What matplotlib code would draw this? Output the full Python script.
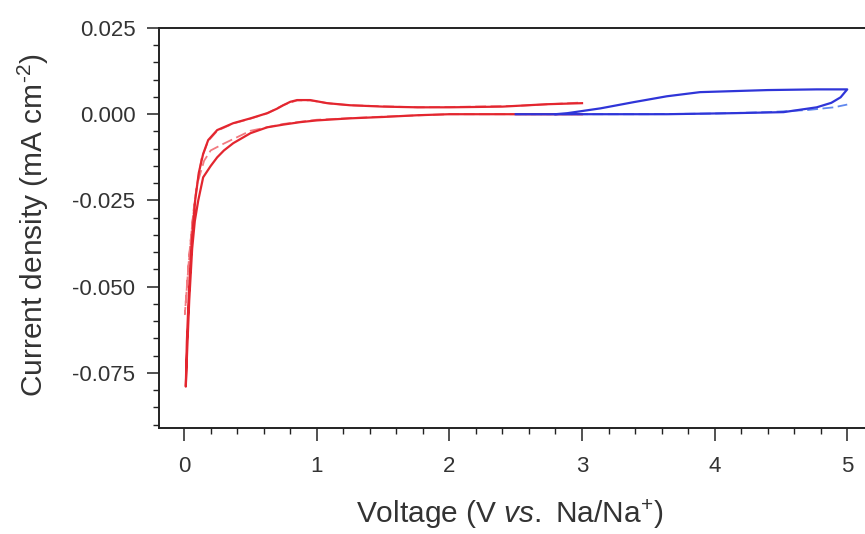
import matplotlib
matplotlib.use("Agg")
import matplotlib.pyplot as plt
from matplotlib.ticker import MultipleLocator, FormatStrFormatter

plt.rcParams['font.family'] = ['Liberation Sans', 'DejaVu Sans']
plt.rcParams['mathtext.fontset'] = 'custom'
plt.rcParams['mathtext.rm'] = 'Liberation Sans'
plt.rcParams['mathtext.it'] = 'Liberation Sans:italic'

# Red cycle (0-3 V), solid: cathodic sweep then anodic sweep
red_solid_v = [3.0, 2.5, 2.0, 1.76, 1.5, 1.25, 1.0, 0.875, 0.75, 0.626, 0.5, 0.37, 0.3, 0.249,
               0.2, 0.143, 0.106, 0.08, 0.06, 0.038, 0.023, 0.012,
               0.02, 0.035, 0.055, 0.083, 0.11, 0.143, 0.181, 0.249, 0.37, 0.5, 0.626, 0.7,
               0.747, 0.8, 0.852, 0.95, 1.078, 1.25, 1.5, 1.76, 2.0, 2.4, 2.74, 3.0]
red_solid_i = [0.0, 0.0, 0.0, -0.0003, -0.0008, -0.0012, -0.0018, -0.0023, -0.0030, -0.0038,
               -0.0055, -0.0084, -0.0105, -0.0125, -0.0150, -0.0183, -0.025, -0.031, -0.039,
               -0.054, -0.068, -0.079,
               -0.066, -0.052, -0.038, -0.0249, -0.017, -0.0115, -0.0075, -0.0046, -0.0026,
               -0.0012, 0.0003, 0.0016, 0.0026, 0.0036, 0.0041, 0.0041, 0.0032, 0.0026,
               0.0022, 0.0020, 0.0020, 0.0022, 0.0029, 0.0032]

# Red cycle, dashed
red_dash_v = [3.0, 2.0, 1.5, 1.0, 0.75, 0.5, 0.37, 0.3, 0.2, 0.15, 0.1, 0.07, 0.04, 0.02, 0.005,
              0.03, 0.06, 0.09, 0.13, 0.18, 0.25, 0.37, 0.5, 0.63, 0.75, 0.85, 0.95, 1.1,
              1.25, 1.76, 2.0, 2.5, 2.8, 3.0]
red_dash_i = [0.0, 0.0, -0.0007, -0.0016, -0.0028, -0.0048, -0.0072, -0.0085, -0.0105, -0.0135,
              -0.020, -0.028, -0.040, -0.050, -0.058,
              -0.045, -0.032, -0.022, -0.013, -0.0078, -0.0048, -0.0027, -0.0013, 0.0003,
              0.0027, 0.0040, 0.0040, 0.0031, 0.0026, 0.0020, 0.0021, 0.0024, 0.0030, 0.0034]

# Blue cycle (2.5-5 V), solid
blue_solid_v = [2.5, 2.89, 3.3, 3.64, 4.14, 4.52, 4.77, 4.88, 4.95, 5.0,
                4.77, 4.40, 3.89, 3.64, 3.39, 3.14, 2.89, 2.8]
blue_solid_i = [0.0, 0.0, 0.0, 0.0, 0.0003, 0.0006, 0.0020, 0.0033, 0.0049, 0.0072,
                0.0072, 0.0070, 0.0064, 0.0052, 0.0035, 0.0017, 0.0003, 0.0]

# Blue cycle, dashed
blue_dash_v = [2.5, 3.0, 3.5, 4.0, 4.4, 4.7, 4.9, 5.0]
blue_dash_i = [0.0, 0.0, 0.0, 0.0002, 0.0006, 0.0012, 0.0020, 0.0028]

fig = plt.figure(figsize=(8.65, 5.34), dpi=100)
ax = fig.add_axes([159/865, 1 - 428/534, 706/865, 400/534])

ax.plot(red_dash_v, red_dash_i, color='#f27a80', lw=1.3, dashes=(6, 2.5))
ax.plot(blue_dash_v, blue_dash_i, color='#6088ee', lw=1.3, dashes=(6, 2.5))
ax.plot(red_solid_v, red_solid_i, color='#e3262f', lw=1.6)
ax.plot(blue_solid_v, blue_solid_i, color='#2f35d8', lw=1.6)

ax.set_xlim(-0.19, 5.134)
ax.set_ylim(-0.091, 0.025)

ax.xaxis.set_major_locator(MultipleLocator(1))
ax.xaxis.set_minor_locator(MultipleLocator(0.2))
ax.yaxis.set_major_locator(MultipleLocator(0.025))
ax.yaxis.set_minor_locator(MultipleLocator(0.005))
ax.yaxis.set_major_formatter(FormatStrFormatter('%.3f'))

ax.tick_params(which='major', direction='out', length=9, width=1.1, labelsize=16,
               color='#222222', labelcolor='#333333')
ax.tick_params(which='minor', direction='out', length=4, width=1.0, color='#222222')
ax.tick_params(axis='x', which='major', pad=11)
ax.tick_params(axis='y', which='major', pad=8)

for s in ['left', 'bottom', 'top']:
    ax.spines[s].set_linewidth(1.4)
    ax.spines[s].set_color('#222222')
ax.spines['right'].set_visible(False)

ax.set_xlabel('Voltage (V $\\mathit{vs.}$ Na/Na$^{+}$)', fontsize=21.5, color='#333333',
              va='center', ha='center')
ax.set_ylabel('Current density (mA cm$^{\\text{-2}}$)', fontsize=21.5, color='#333333',
              va='center', ha='center')
ax.xaxis.set_label_coords(0.497, -0.215)
ax.yaxis.set_label_coords(-0.1785, 0.5075)

fig.savefig('out.png', dpi=100)
